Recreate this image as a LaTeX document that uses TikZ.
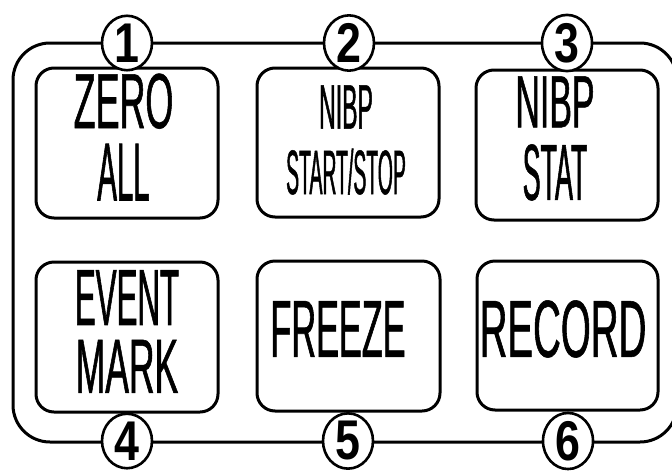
\documentclass[tikz,border=0pt]{standalone}
\usepackage{fontspec}
\usepackage{graphicx}
\usetikzlibrary{shapes.geometric}
\newfontfamily\btnfont{Liberation Sans}
\newcommand\lab[3]{{\fontspec{Liberation Sans}[FakeStretch=#1,FakeBold=0.7]\fontsize{#2pt}{#2pt}\selectfont #3}}
\newcommand\twolines[3]{\vbox{\offinterlineskip\halign{\hfil##\hfil\cr#1\cr\noalign{\vskip#3}#2\cr}}}
\newcommand\dig[1]{\scalebox{0.8}[1]{\fontsize{56}{56}\selectfont\btnfont\bfseries #1}}
\tikzset{
  btn/.style={draw=black, line width=3pt, rounded corners=18pt, fill=white},
  numc/.style={draw=black, line width=2.6pt, ellipse, fill=white, inner sep=0pt, minimum width=50pt, minimum height=54pt},
  lbl/.style={inner sep=0pt, text=black}
}
\begin{document}
\begin{tikzpicture}[x=1pt,y=-1pt]
\useasboundingbox (0,0) rectangle (672,472);
% outer frame
\draw[line width=3pt, rounded corners=37pt] (13,43) rectangle (677,442);
% buttons
\draw[btn] (36,68) rectangle (218,218);
\draw[btn] (257,68) rectangle (439,217);
\draw[btn] (476,70) rectangle (658,220);
\draw[btn] (36,262) rectangle (218,412);
\draw[btn] (257,261) rectangle (440,411);
\draw[btn] (477,261) rectangle (658,410);
% circled numbers
\node[numc] (n1) at (127,43) {\dig{1}};
\node[numc] (n2) at (349,43) {\dig{2}};
\node[numc] (n3) at (567,43) {\dig{3}};
\node[numc] (n4) at (127,441) {\dig{4}};
\node[numc] (n5) at (348,441) {\dig{5}};
\node[numc] (n6) at (568,441) {\dig{6}};
% labels
\node[lbl] (t1) at (123.5,137) {\twolines{\lab{0.46}{78}{ZERO}}{\lab{0.357}{82.4}{ALL}}{15pt}};
\node[lbl] (t2) at (346,140) {\twolines{\lab{0.367}{62.8}{NIBP}}{\lab{0.309}{62.8}{START/STOP}}{20pt}};
\node[lbl] (t3) at (555,138.5) {\twolines{\lab{0.458}{74}{NIBP}}{\lab{0.337}{79.6}{STAT}}{17pt}};
\node[lbl] (t4) at (127,331.5) {\twolines{\lab{0.393}{79.6}{EVENT}}{\lab{0.462}{76.8}{MARK}}{15pt}};
\node[lbl] (t5) at (338,329) {\lab{0.423}{81}{FREEZE}};
\node[lbl] (t6) at (563,329) {\lab{0.475}{81}{RECORD}};
\end{tikzpicture}
\end{document}
